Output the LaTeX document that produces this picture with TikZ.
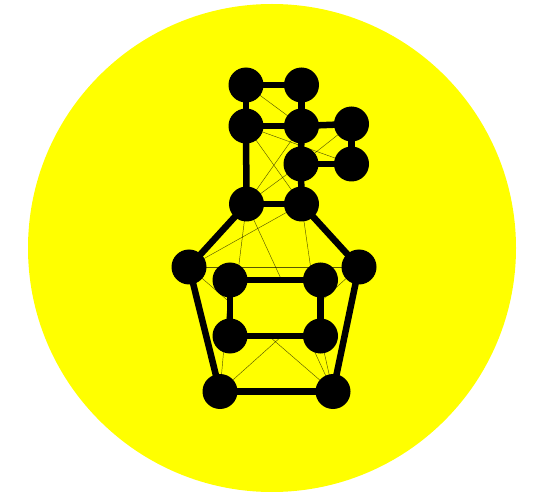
\documentclass[tikz,border=0pt]{standalone}
\definecolor{pureyellow}{RGB}{255,255,0}
\begin{document}
\begin{tikzpicture}[x=1pt,y=-1pt,
  vtx/.style={circle,fill=black,minimum size=35pt,inner sep=0pt},
  thick edge/.style={line width=6.5pt,black},
  thin edge/.style={line width=0.45pt,black,opacity=0.65}]
\useasboundingbox (0,0) rectangle (547,500);
\fill[white] (0,0) rectangle (547,500);
\fill[pureyellow] (272,248) circle (244);
% coordinates of vertices
\coordinate (A) at (246,85);
\coordinate (B) at (301.5,85);
\coordinate (C) at (246,126);
\coordinate (D) at (301.5,126);
\coordinate (E) at (351.5,124);
\coordinate (F) at (301,164);
\coordinate (G) at (351.5,164);
\coordinate (H) at (246.5,204);
\coordinate (I) at (301.5,204);
\coordinate (J) at (189,267);
\coordinate (K) at (359,267);
\coordinate (L) at (230,280);
\coordinate (M) at (320.5,280);
\coordinate (N) at (230,336);
\coordinate (O) at (320.5,336);
\coordinate (P) at (220,391.5);
\coordinate (Q) at (333,391.5);
% thin edges
\foreach \a/\b in {A/D,C/G,E/F,C/I,D/H,F/H,I/J,H/N,H/Q,J/K,J/Q,K/P,I/O,L/P,O/Q}
  \draw[thin edge] (\a) -- (\b);
% inner face
\fill[pureyellow] (L) -- (M) -- (O) -- (N) -- cycle;
% thick edges
\foreach \a/\b in {A/B,A/C,B/D,C/D,D/E,E/G,G/F,D/F,F/I,C/H,H/I,H/J,I/K,J/P,K/Q,P/Q,L/M,L/N,M/O,N/O}
  \draw[thick edge] (\a) -- (\b);
% vertices
\foreach \v in {A,B,C,D,E,F,G,H,I,J,K,L,M,N,O,P,Q}
  \node[vtx] (n\v) at (\v) {};
\end{tikzpicture}
\end{document}
